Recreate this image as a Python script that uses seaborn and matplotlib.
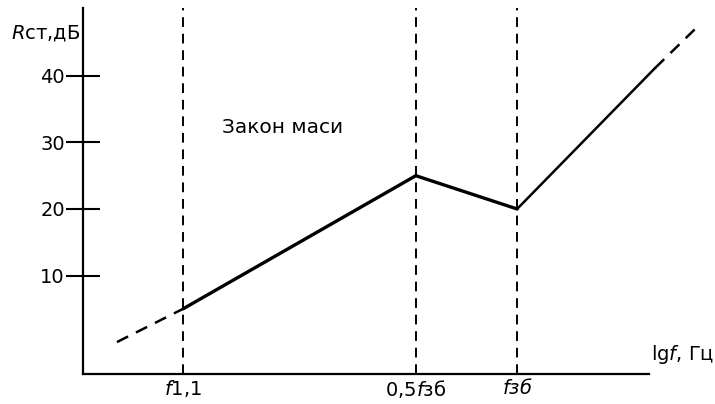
import numpy as np
import pandas as pd
import matplotlib
matplotlib.use("Agg")
import matplotlib.pyplot as plt
import seaborn as sns

# ---- data (arbitrary lg f units, R in dB) ----
x_marks = [17.7, 58.8, 76.7]
x_tick_labels = [r"$f$1,1", r"0,5$f$зб", r"$f$$\it{зб}$"]
y_ticks = [10, 20, 30, 40]

x_main = [17.7, 58.8, 76.7]
y_main = [5, 25, 20]
x_rise = [76.7, 101.1]
y_rise = [20, 41.2]
x_low = [6.0, 17.7]
y_low = [0, 5]
x_high = [101.1, 108.7]
y_high = [41.2, 47.5]

sns.set_style("white")
plt.rcParams["font.family"] = ["DejaVu Sans"]
plt.rcParams["mathtext.fontset"] = "custom"
plt.rcParams["mathtext.rm"] = "DejaVu Sans"
plt.rcParams["mathtext.it"] = "DejaVu Sans:italic"

FS = 14

fig = plt.figure(figsize=(7.15, 4.04), dpi=100)
ax = fig.add_axes([83 / 715, 1 - 374 / 404, (649 - 83) / 715, (374 - 8) / 404])

ax.set_xlim(0, 100)
ax.set_ylim(-4.8, 50.2)

for xm in x_marks:
    ax.axvline(xm, color="black", lw=1.4, ls=(0, (5, 3.5)), zorder=1)

sns.lineplot(x=x_main, y=y_main, ax=ax, color="black", lw=2.4, sort=False,
             clip_on=False, zorder=3)
sns.lineplot(x=x_rise, y=y_rise, ax=ax, color="black", lw=1.8, sort=False,
             clip_on=False, zorder=3)
sns.lineplot(x=x_low, y=y_low, ax=ax, color="black", lw=1.8, sort=False,
             ls=(0, (5, 3.5)), clip_on=False, zorder=3)
sns.lineplot(x=x_high, y=y_high, ax=ax, color="black", lw=1.8, sort=False,
             ls=(0, (5, 3.5)), clip_on=False, zorder=3)

for s in ["top", "right"]:
    ax.spines[s].set_visible(False)
for s in ["left", "bottom"]:
    ax.spines[s].set_color("black")
    ax.spines[s].set_linewidth(1.6)

ax.set_yticks(y_ticks)
ax.set_yticklabels([str(v) for v in y_ticks], fontsize=FS)
ax.tick_params(axis="y", direction="inout", length=25, width=1.5, pad=0.5,
               colors="black", left=True)
ax.set_xticks(x_marks)
ax.set_xticklabels(x_tick_labels, fontsize=FS)
ax.tick_params(axis="x", length=0, pad=3, colors="black")

ax.text(-0.004, 0.932, r"$R$ст,дБ", transform=ax.transAxes, fontsize=FS,
        ha="right", va="center", color="black")
ax.text(1.003, 0.052, r"lg$f$, Гц", transform=ax.transAxes, fontsize=FS,
        ha="left", va="center", color="black")
ax.text(24.5, 32.2, "Закон маси", fontsize=14.5, ha="left", va="center",
        color="black")

fig.savefig("out.png", dpi=100)
